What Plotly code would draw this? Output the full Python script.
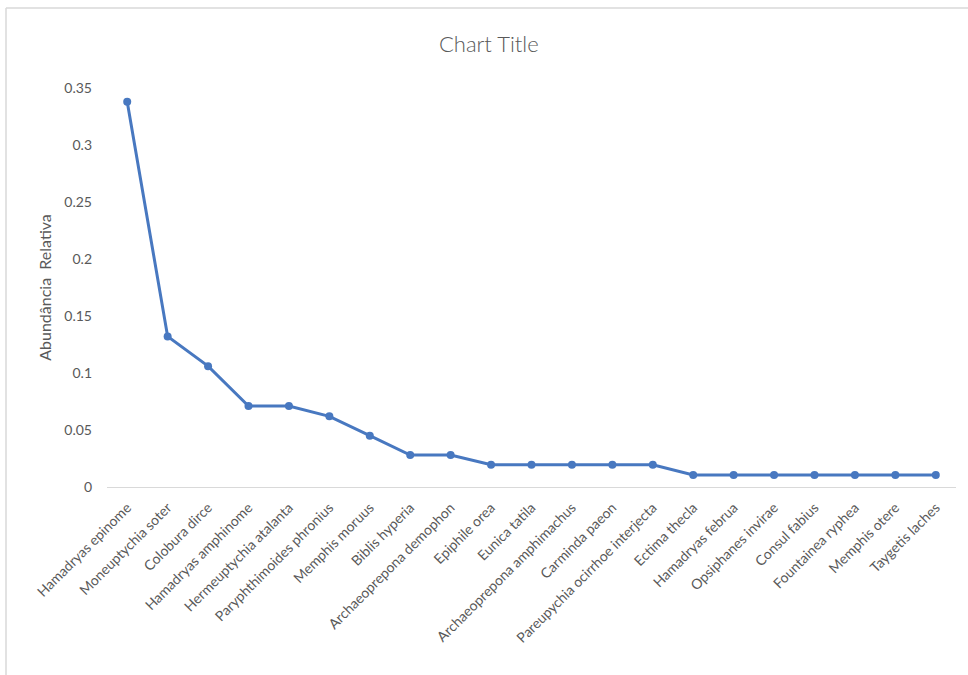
import plotly.graph_objects as go

# Species ranked by relative abundance
species = [
    "Hamadryas epinome", "Moneuptychia soter", "Colobura dirce",
    "Hamadryas amphinome", "Hermeuptychia atalanta", "Paryphthimoides phronius",
    "Memphis moruus", "Biblis hyperia", "Archaeoprepona demophon",
    "Epiphile orea", "Eunica tatila", "Archaeoprepona amphimachus",
    "Carminda paeon", "Pareupychia ocirrhoe interjecta", "Ectima thecla",
    "Hamadryas februa", "Opsiphanes invirae", "Consul fabius",
    "Fountainea ryphea", "Memphis otere", "Taygetis laches",
]
abundance = [
    0.338, 0.132, 0.106, 0.071, 0.071, 0.062, 0.045, 0.028, 0.028,
    0.0195, 0.0195, 0.0195, 0.0195, 0.0195,
    0.0105, 0.0105, 0.0105, 0.0105, 0.0105, 0.0105, 0.0105,
]
y_ticks = [0, 0.05, 0.1, 0.15, 0.2, 0.25, 0.3, 0.35]
y_tick_text = ["0", "0.05", "0.1", "0.15", "0.2", "0.25", "0.3", "0.35"]

LINE_BLUE = "#4878C0"
TEXT_GREY = "#595959"
FONT = "Lato, Liberation Sans, sans-serif"

fig = go.Figure(
    go.Scatter(
        x=species,
        y=abundance,
        mode="lines+markers",
        line=dict(color=LINE_BLUE, width=3),
        marker=dict(color=LINE_BLUE, size=8),
        showlegend=False,
    )
)

W, H = 968, 675
ML, MR, MT, MB = 107, 12, 88, 188

fig.update_layout(
    width=W,
    height=H,
    margin=dict(l=ML, r=MR, t=MT, b=MB),
    paper_bgcolor="white",
    plot_bgcolor="white",
    font=dict(family=FONT, color=TEXT_GREY, size=14),
    title=dict(
        text="Chart Title",
        x=0.505,
        xref="container",
        xanchor="center",
        y=1 - 44 / H,
        yref="container",
        yanchor="middle",
        font=dict(family=FONT, size=22, color=TEXT_GREY, weight=300),
    ),
    xaxis=dict(
        type="category",
        tickangle=-45,
        showgrid=False,
        showline=True,
        linecolor="#D9D9D9",
        linewidth=1,
        ticks="",
        ticklabelstandoff=6,
        tickfont=dict(family=FONT, size=14, color=TEXT_GREY),
        range=[-0.5, len(species) - 0.5],
        zeroline=False,
    ),
    yaxis=dict(
        range=[0, 0.35],
        tickvals=y_ticks,
        ticktext=y_tick_text,
        showgrid=False,
        showline=False,
        zeroline=False,
        ticks="",
        ticklabelstandoff=14,
        tickfont=dict(family=FONT, size=14, color=TEXT_GREY),
        title=dict(
            text="Abundância  Relativa",
            font=dict(family=FONT, size=16, color=TEXT_GREY),
            standoff=8,
        ),
    ),
)

# Chart-area frame along the top and left edges
x_left = (6 - ML) / (W - ML - MR)
y_top = (H - MB - 8) / (H - MT - MB)
fig.add_shape(
    type="line", xref="paper", yref="paper",
    x0=x_left, x1=(W - ML) / (W - ML - MR) + 0.01, y0=y_top, y1=y_top,
    line=dict(color="#D9D9D9", width=1.5),
)
fig.add_shape(
    type="line", xref="paper", yref="paper",
    x0=x_left, x1=x_left, y0=y_top, y1=-MB / (H - MT - MB) - 0.01,
    line=dict(color="#D9D9D9", width=1.5),
)

fig.write_html("out.html")
